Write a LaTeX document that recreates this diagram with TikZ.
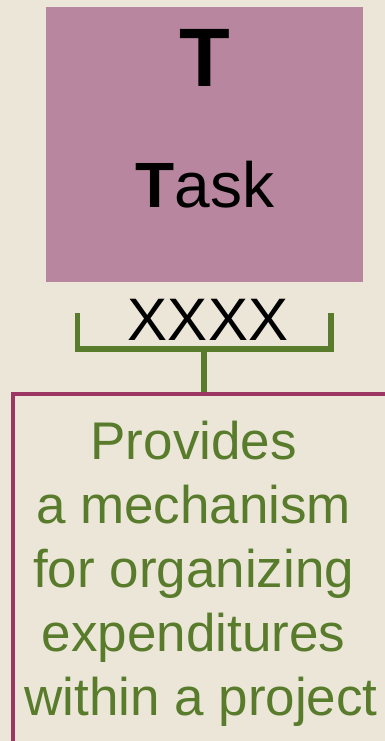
\documentclass[tikz,border=0pt]{standalone}
\usepackage{fontspec}
\setmainfont{Liberation Sans}
\usepackage{tikz}

\definecolor{bgcream}{RGB}{236,230,216}
\definecolor{taskmauve}{RGB}{184,134,159}
\definecolor{leafgreen}{RGB}{88,124,44}
\definecolor{boxmaroon}{RGB}{156,54,100}

\tikzset{
    bracket/.style={draw=leafgreen, line width=5.5pt},
    descbox/.style={draw=boxmaroon, fill=bgcream, line width=4pt}
}
\newcommand{\tsp}{\kern.278em}

\begin{document}
\begin{tikzpicture}[x=1pt, y=-1pt]
    \useasboundingbox (0,0) rectangle (385,741);
    \clip (0,0) rectangle (385,741);
    \fill[bgcream] (0,0) rectangle (385,741);

    \node[fill=taskmauve, minimum width=317pt, minimum height=275pt, inner sep=0pt] (task) at (204.5,144.5) {};
    \node[anchor=base, inner sep=0pt, font=\fontsize{83}{83}\selectfont\bfseries] (tletter) at (205,87) {T};
    \node[anchor=base, inner sep=0pt, font=\fontsize{64}{64}\selectfont] (taskname) at (205,207) {\textbf{T}ask};

    \node[anchor=base, inner sep=0pt, font=\fontsize{60}{60}\selectfont] (code) at (208,340) {XXXX};

    \pgfmathsetmacro{\boxw}{2*(204-13)}
    \node[descbox, anchor=north, minimum width=\boxw pt, minimum height=420pt, inner sep=0pt] (desc) at (204,392) {};

    \coordinate (brk) at (204,349);
    \draw[bracket] (77.5,313) |- (brk) -| (331,313);
    \draw[bracket] (brk) -- (desc.north);

    \node[text=leafgreen, align=center, inner sep=0pt, font=\fontsize{53}{64}\selectfont] (desctext) at (201,574)
        {Provides\tsp\\a mechanism\tsp\\for organizing\tsp\\expenditures\tsp\\within a project};
\end{tikzpicture}
\end{document}
